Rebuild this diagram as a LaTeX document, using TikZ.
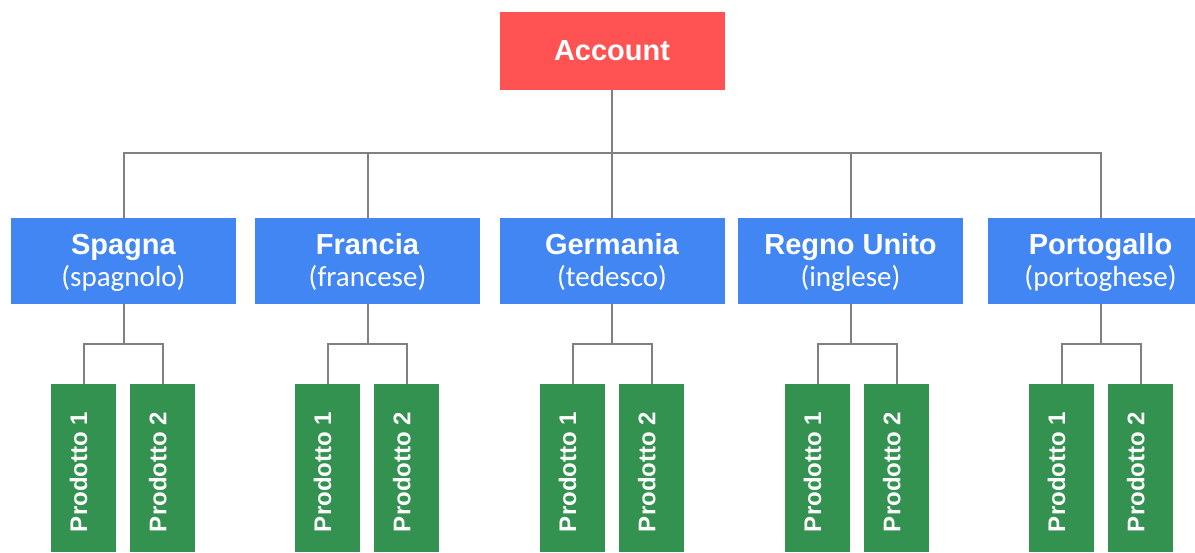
\documentclass[tikz,border=0pt]{standalone}
\usepackage{fontspec}
\setmainfont{Liberation Sans}
\newfontfamily\subfont{Carlito}
\usepackage{tikz}
\usetikzlibrary{positioning}

\definecolor{accred}{RGB}{255,82,82}
\definecolor{landblue}{RGB}{66,134,244}
\definecolor{prodgreen}{RGB}{52,146,80}

\newcommand{\prodtext}[1]{\rotatebox{90}{#1\hspace*{8pt}}\hspace*{10pt}}

\begin{document}
\begin{tikzpicture}[x=1pt, y=-1pt,
    acct/.style={fill=accred, text=white, inner sep=0pt,
      minimum width=225pt, minimum height=78pt,
      font=\fontsize{29}{32}\selectfont\bfseries},
    land/.style={fill=landblue, text=white, inner sep=0pt, align=center,
      minimum width=225pt, minimum height=86pt,
      text height=56pt, text depth=6pt,
      font=\fontsize{29}{32}\selectfont},
    prod/.style={fill=prodgreen, text=white, inner sep=0pt,
      minimum width=65pt, minimum height=168pt,
      font=\fontsize{24}{26}\selectfont\bfseries},
    link/.style={draw=black!50, line width=2pt},
    node distance=14pt]
\useasboundingbox (0,0) rectangle (1195,552);
\node[acct] (acc) at (612,51) {Account};
\node[land] (spa) at (123.5,261) {\textbf{Spagna}\\{\subfont (spagnolo)}};
\node[land] (fra) at (367.5,261) {\textbf{Francia}\\{\subfont (francese)}};
\node[land] (ger) at (612,261) {\textbf{Germania}\\{\subfont (tedesco)}};
\node[land] (uk) at (850.5,261) {\textbf{Regno Unito}\\{\subfont (inglese)}};
\node[land] (por) at (1100.5,261) {\textbf{Portogallo}\\{\subfont (portoghese)}};
\node[prod] (spa1) at (83.5,468) {\prodtext{Prodotto 1}};
\node[prod, right=of spa1] (spa2) {\prodtext{Prodotto 2}};
\node[prod] (fra1) at (327.5,468) {\prodtext{Prodotto 1}};
\node[prod, right=of fra1] (fra2) {\prodtext{Prodotto 2}};
\node[prod] (ger1) at (572.5,468) {\prodtext{Prodotto 1}};
\node[prod, right=of ger1] (ger2) {\prodtext{Prodotto 2}};
\node[prod] (uk1) at (817.5,468) {\prodtext{Prodotto 1}};
\node[prod, right=of uk1] (uk2) {\prodtext{Prodotto 2}};
\node[prod] (por1) at (1061.5,468) {\prodtext{Prodotto 1}};
\node[prod, right=of por1] (por2) {\prodtext{Prodotto 2}};
% account to countries
\draw[link] (acc.south) -- ++(0,63) -| (spa.north);
\draw[link] (acc.south) -- ++(0,63) -| (fra.north);
\draw[link] (acc.south) -- (ger.north);
\draw[link] (acc.south) -- ++(0,63) -| (uk.north);
\draw[link] (acc.south) -- ++(0,63) -| (por.north);
% countries to products
\draw[link] (spa.south) -- ++(0,40) -| (spa1.north);
\draw[link] (spa.south) -- ++(0,40) -| (spa2.north);
\draw[link] (fra.south) -- ++(0,40) -| (fra1.north);
\draw[link] (fra.south) -- ++(0,40) -| (fra2.north);
\draw[link] (ger.south) -- ++(0,40) -| (ger1.north);
\draw[link] (ger.south) -- ++(0,40) -| (ger2.north);
\draw[link] (uk.south) -- ++(0,40) -| (uk1.north);
\draw[link] (uk.south) -- ++(0,40) -| (uk2.north);
\draw[link] (por.south) -- ++(0,40) -| (por1.north);
\draw[link] (por.south) -- ++(0,40) -| (por2.north);
\end{tikzpicture}
\end{document}
